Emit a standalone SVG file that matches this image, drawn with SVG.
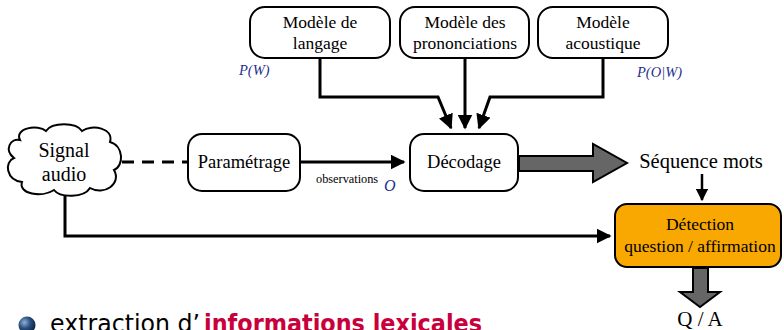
<svg xmlns="http://www.w3.org/2000/svg" width="784" height="330" viewBox="0 0 784 330">
<defs>
<style>
.box{fill:#fff;stroke:#000;stroke-width:2}
.t{font-family:"Liberation Serif",serif;fill:#000;text-anchor:middle}
.m{font-family:"Liberation Serif",serif;font-style:italic;fill:#1f2f8f}
.ln{fill:none;stroke:#000;stroke-width:3}
.big{fill:#666;stroke:#000;stroke-width:2}
</style>
<marker id="ah" viewBox="0 0 10 10" refX="9" refY="5" markerWidth="5" markerHeight="5" orient="auto" markerUnits="strokeWidth">
<path d="M0,0 L10,5 L0,10 z" fill="#000"/>
</marker>
<radialGradient id="ball" cx="0.35" cy="0.35" r="0.7">
<stop offset="0" stop-color="#8fb0d8"/>
<stop offset="0.5" stop-color="#2a4f80"/>
<stop offset="1" stop-color="#0d2240"/>
</radialGradient>
</defs>

<g id="connectors">
<path class="ln" d="M320,58 V97 H438 L451,128" marker-end="url(#ah)"/>
<path class="ln" d="M465,58 V128" marker-end="url(#ah)"/>
<path class="ln" d="M603,58 V97 H490 L479,128" marker-end="url(#ah)"/>
<path class="ln" d="M122,162 H188" stroke-dasharray="12,8"/>
<path class="ln" d="M300,162 H404" marker-end="url(#ah)"/>
<path class="ln" d="M65,194 V236 H610" marker-end="url(#ah)"/>
<path class="ln" d="M702,174 V200" marker-end="url(#ah)" style="stroke-width:2.5"/>
<path class="big" d="M519,156 H593 V144 L627,163 L593,182 V171 H519 z"/>
<path class="big" d="M693,268 V292 H680 L700,307 L720,292 H708 V268 z"/>
</g>

<g id="langage">
<rect class="box" x="250" y="7" width="140" height="51" rx="15"/>
<text class="t" x="320" y="28" font-size="17.5">Modèle de</text>
<text class="t" x="320" y="49" font-size="17.5">langage</text>
</g>
<g id="pron">
<rect class="box" x="400" y="7" width="129" height="51" rx="15"/>
<text class="t" x="465" y="28" font-size="17.5">Modèle des</text>
<text class="t" x="465" y="49" font-size="17.5">prononciations</text>
</g>
<g id="acoust">
<rect class="box" x="538" y="7" width="130" height="51" rx="15"/>
<text class="t" x="603" y="28" font-size="17.5">Modèle</text>
<text class="t" x="603" y="49" font-size="17.5">acoustique</text>
</g>
<text class="m" x="239" y="75" font-size="14.5">P(W)</text>
<text class="m" x="637" y="77" font-size="14.5">P(O|W)</text>

<g id="signal">
<path class="box" d="M20,140 C14,128 38,124 46,131 C52,122 76,122 82,131 C92,124 114,128 110,142 C124,146 124,166 114,170 C122,184 104,196 90,188 C84,198 60,198 54,190 C42,198 18,194 22,182 C6,180 4,162 14,158 C4,150 10,138 20,140 z"/>
<text class="t" x="64" y="157" font-size="20">Signal</text>
<text class="t" x="64" y="181" font-size="20">audio</text>
</g>

<g id="param">
<rect class="box" x="188" y="134" width="112" height="57" rx="14"/>
<text class="t" x="244" y="168" font-size="18.5">Paramétrage</text>
</g>
<text x="316" y="183" font-family="Liberation Serif,serif" font-size="12.3">observations</text>
<text class="m" x="384" y="191" font-size="16">O</text>

<g id="decodage">
<rect class="box" x="410" y="134" width="108" height="57" rx="14"/>
<text class="t" x="464" y="168" font-size="18.5">Décodage</text>
</g>

<g id="sequence">
<text class="t" x="701" y="168" font-size="20.5">Séquence mots</text>
</g>

<g id="detection">
<rect x="615" y="204" width="166" height="63" rx="12" fill="#f8a800" stroke="#000" stroke-width="2"/>
<text class="t" x="700" y="230" font-size="17.5">Détection</text>
<text class="t" x="700" y="252" font-size="17.5">question / affirmation</text>
</g>

<g id="qa">
<text class="t" x="700" y="326" font-size="21">Q / A</text>
</g>

<circle cx="27" cy="325" r="8.5" fill="url(#ball)"/>
<text x="50" y="332" font-family="DejaVu Sans,sans-serif" font-size="24" textLength="150" lengthAdjust="spacingAndGlyphs">extraction d’</text>
<text x="204" y="332" font-family="DejaVu Sans,sans-serif" font-size="24" font-weight="bold" fill="#c8003c" textLength="278" lengthAdjust="spacingAndGlyphs">informations lexicales</text>
</svg>
